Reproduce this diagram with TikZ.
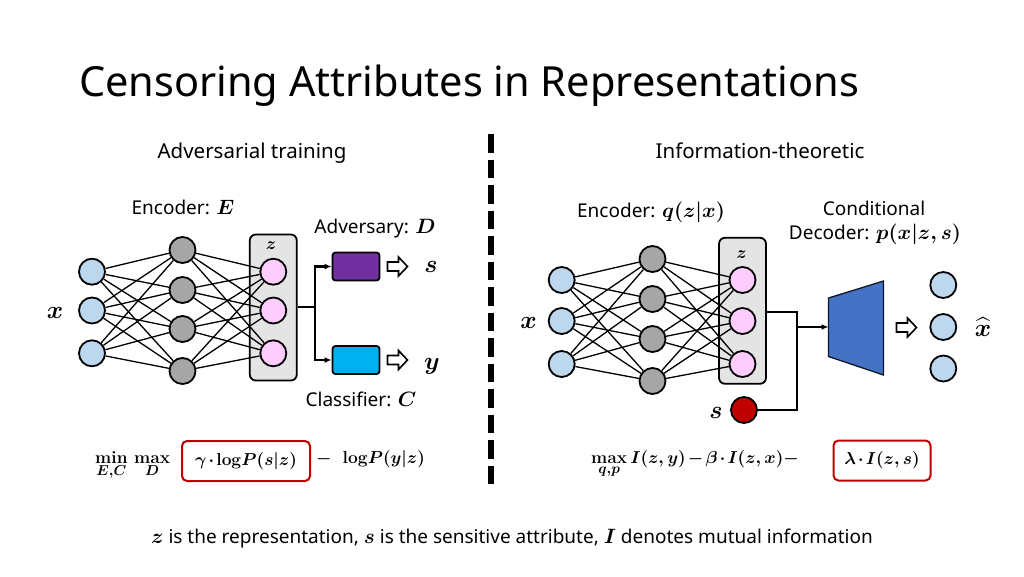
\documentclass[tikz,border=0pt]{standalone}
\usepackage{amsmath,bm}
\usepackage[no-math]{fontspec}
\setmainfont{Noto Sans}
\usetikzlibrary{arrows.meta,calc}
\definecolor{nblue}{HTML}{BDD7EE}
\definecolor{ngray}{HTML}{A6A6A6}
\definecolor{npink}{HTML}{FFCCFF}
\definecolor{boxgray}{HTML}{E4E4E4}
\definecolor{advp}{HTML}{7030A0}
\definecolor{clsc}{HTML}{00B0F0}
\definecolor{sred}{HTML}{C00000}
\definecolor{decb}{HTML}{4472C4}
\newcommand{\mymath}[1]{{\fontsize{21}{22}\selectfont\boldmath$#1$}}
\newcommand{\tightfrm}{\fontsize{19}{22}\selectfont\boldmath\medmuskip=2mu\relax}
\begin{document}
\begin{tikzpicture}[x=1pt,y=-1pt,
  neuron/.style={circle,draw=black,line width=1.8pt,minimum size=26pt,inner sep=0pt},
  inn/.style={neuron,fill=nblue},
  hid/.style={neuron,fill=ngray},
  lat/.style={neuron,fill=npink},
  zbox/.style={draw=black,line width=1.8pt,fill=boxgray,rounded corners=6pt,minimum width=47pt,minimum height=146pt,inner sep=0pt},
  blk/.style={draw=black,line width=1.8pt,rounded corners=3pt,minimum width=47pt,minimum height=28pt,inner sep=0pt},
  edge/.style={line width=1.3pt,black},
  conn/.style={line width=2.2pt,black},
  arr/.style={conn,-{Latex[length=7pt,width=6pt]}},
  head/.style={font=\fontsize{20.5}{22}\selectfont,inner sep=0pt},
  lbl/.style={font=\fontsize{19}{21}\selectfont,inner sep=0pt},
  mlbl/.style={font=\fontsize{23}{24}\selectfont\boldmath,inner sep=0pt},
  frm/.style={font=\tightfrm,inner sep=0pt},
  redbox/.style={draw=sred,line width=2pt,rounded corners=5pt,minimum height=40pt,inner xsep=2pt},
  hollowarrow/.pic={\draw[line width=1.6pt,fill=white,line join=miter] (-10,-4.5) -- (1,-4.5) -- (1,-9.5) -- (10,0) -- (1,9.5) -- (1,4.5) -- (-10,4.5) -- cycle;}
]
\useasboundingbox (0,0) rectangle (1024,576);

% title
\node[font=\fontsize{41.5}{46}\selectfont,anchor=west,inner sep=0pt] (title) at (79,86) {Censoring Attributes in Representations};

% divider
\coordinate (dtop) at (490.5,134);
\coordinate (dbot) at (490.5,484);
\draw[line width=6pt,dash pattern=on 18.5pt off 7pt] (dtop) -- (dbot);

% section headings
\node[head] (hl) at (252,153) {Adversarial training};
\node[head] (hr) at (760,151) {Information-theoretic};

% ================= LEFT =================
\node[zbox] (zbL) at (273.3,307.5) {};
\node[mlbl,font=\fontsize{17}{17}\selectfont\boldmath] (zlL) at (271,246) {$z$};
\foreach \i/\y in {1/271.7,2/310.5,3/353.3}{
  \node[inn] (a\i) at (92,\y) {};
  \node[lat] (c\i) at (273.3,\y) {};
}
\foreach \i/\y in {1/250,2/290,3/329,4/371}{
  \node[hid] (b\i) at (182.5,\y) {};
}
\foreach \i in {1,2,3}{\foreach \j in {1,2,3,4}{\draw[edge] (a\i) -- (b\j);}}
\foreach \j in {1,2,3,4}{\foreach \k in {1,2,3}{\draw[edge] (b\j) -- (c\k);}}

\node[blk,fill=advp] (adv) at (356,266.5) {};
\node[blk,fill=clsc] (cls) at (356,360) {};
\coordinate (brL) at (315,307);
\draw[conn] (zbL.east |- brL) -- (brL);
\draw[arr] (brL) |- (adv.west);
\draw[arr] (brL) |- (cls.west);
\pic at (397.5,266.5) {hollowarrow};
\pic at (397.5,360) {hollowarrow};
\node[mlbl] (sL) at (431,266.5) {$s$};
\node[mlbl] (yL) at (432,366) {$y$};
\node[mlbl] (xL) at (55,313) {$x$};
\node[lbl] (encL) at (183,207) {Encoder: \mymath{E}};
\node[lbl] (advl) at (375,229) {Adversary: \mymath{D}};
\node[lbl] (clsl) at (361,399) {Classifier: \mymath{C}};

% ================= RIGHT =================
\node[zbox] (zbR) at (742.5,310.8) {};
\node[mlbl,font=\fontsize{17}{17}\selectfont\boldmath] (zlR) at (741.5,255) {$z$};
\foreach \i/\y in {1/280,2/321,3/364}{
  \node[inn] (p\i) at (561.7,\y) {};
  \node[lat] (r\i) at (742.5,\y) {};
}
\foreach \i/\y in {1/259,2/299,3/339,4/381}{
  \node[hid] (q\i) at (652.5,\y) {};
}
\foreach \i in {1,2,3}{\foreach \j in {1,2,3,4}{\draw[edge] (p\i) -- (q\j);}}
\foreach \j in {1,2,3,4}{\foreach \k in {1,2,3}{\draw[edge] (q\j) -- (r\k);}}

\node[neuron,fill=sred] (sR) at (744,410) {};
\coordinate (brR) at (797,327);
\coordinate (zout) at (797,312);
\coordinate (decin) at (828.5,327);
\draw[conn,line join=miter] (zbR.east |- zout) -- (zout) -- (brR) |- (sR.east);
\draw[arr] (brR) -- (decin);
\draw[line width=1.3pt,draw=black!80!decb,fill=decb] (828.5,298) -- (883.5,281) -- (883.5,375) -- (828.5,356.5) -- cycle;
\pic at (906.5,327.5) {hollowarrow};
\foreach \i/\y in {1/285,2/327,3/368.5}{
  \node[inn] (o\i) at (943.3,\y) {};
}
\node[mlbl] (xR) at (528.5,323) {$x$};
\node[mlbl] (xh) at (983,327) {$\widehat{x}$};
\node[mlbl] (sRl) at (716,413) {$s$};
\node[lbl] (encR) at (651,212) {Encoder: \mymath{q(z|x)}};
\node[lbl] (cond) at (874,208) {Conditional};
\node[lbl] (decR) at (875,234) {Decoder: \mymath{p(x|z,s)}};

% ================= FORMULAS =================
\node[frm,anchor=base west] (f1) at (95,463) {$\min\limits_{E,C}\,\max\limits_{D}$};
\node[frm,redbox,minimum width=128pt] (f2) at (246,461) {$\gamma\cdot\mathrm{log}P(s|z)$};
\node[frm,anchor=base west] (f3) at (316,463) {$-\;\;\mathrm{log}P(y|z)$};

\node[frm,anchor=base west] (g1) at (591,463) {$\max\limits_{q,p}I(z,y)-\beta\cdot I(z,x)-$};
\node[frm,redbox,minimum width=97pt] (g2) at (882,460.5) {$\lambda\cdot I(z,s)$};

% footer
\node[font=\fontsize{19}{21}\selectfont,inner sep=0pt] (foot) at (512,539) {\mymath{z} is the representation, \mymath{s} is the sensitive attribute, \mymath{I} denotes mutual information};
\end{tikzpicture}
\end{document}
